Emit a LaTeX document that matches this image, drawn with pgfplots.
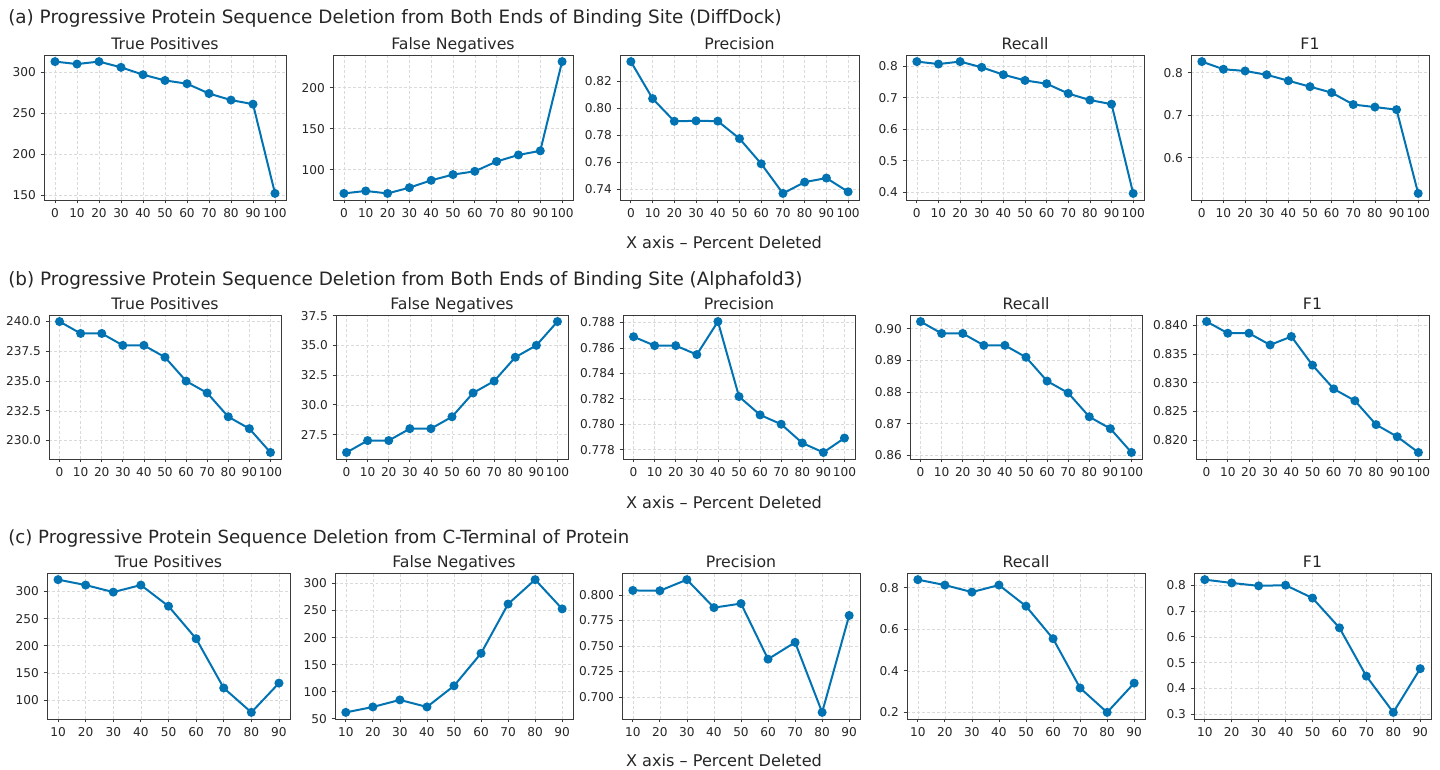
\documentclass[border=0pt]{standalone}
\usepackage{fontspec}
\setmainfont{DejaVu Sans}
\usepackage{pgfplots}
\pgfplotsset{compat=1.18}
\definecolor{lineblue}{HTML}{0173B2}
\definecolor{framegray}{HTML}{3A3A3A}
\definecolor{gridgray}{HTML}{DADADA}
\definecolor{txt}{HTML}{262626}
\pgfplotsset{
  panel/.style={
    scale only axis,
    axis line style={draw=framegray, line width=0.7pt},
    tick align=outside,
    tick pos=left,
    major tick length=2.6pt,
    tick style={draw=framegray, line width=0.6pt},
    xmajorgrids, ymajorgrids,
    grid style={draw=gridgray, line width=0.45pt, dash pattern=on 2.2pt off 1.6pt},
    tick label style={font=\fontsize{9.1}{10.5}\selectfont, text=txt},
    every axis title shift=0pt,
    title style={font=\fontsize{11.8}{14}\selectfont, text=txt, at={(0.5,1)}, anchor=base, yshift=4.5pt},
    enlarge x limits=0.05, enlarge y limits=0.05,
    anchor=north west,
  },
  fullx/.style={xtick={0,10,20,30,40,50,60,70,80,90,100}, xticklabels={0,10,20,30,40,50,60,70,80,90,100}},
  partx/.style={xtick={10,20,30,40,50,60,70,80,90}, xticklabels={10,20,30,40,50,60,70,80,90}},
  series/.style={color=lineblue, line width=1.5pt, mark=*, mark size=2.6pt, mark options={solid, fill=lineblue, draw=lineblue}},
}
\begin{document}
\begin{tikzpicture}
\useasboundingbox (0pt,0pt) rectangle (1080pt,-576.75pt);
% ---------- row titles and x labels
\node[anchor=base west, text=txt, font=\fontsize{13.8}{16}\selectfont, inner sep=0pt] at (6pt,-17.8pt) {(a) Progressive Protein Sequence Deletion from Both Ends of Binding Site (DiffDock)};
\node[anchor=base west, text=txt, font=\fontsize{13.8}{16}\selectfont, inner sep=0pt] at (6pt,-214.3pt) {(b) Progressive Protein Sequence Deletion from Both Ends of Binding Site (Alphafold3)};
\node[anchor=base west, text=txt, font=\fontsize{13.6}{16}\selectfont, inner sep=0pt] at (6pt,-407.8pt) {(c) Progressive Protein Sequence Deletion from C-Terminal of Protein};
\node[anchor=base, text=txt, font=\fontsize{12.1}{14}\selectfont, inner sep=0pt] at (543pt,-186.6pt) {X axis – Percent Deleted};
\node[anchor=base, text=txt, font=\fontsize{12.1}{14}\selectfont, inner sep=0pt] at (543pt,-381.6pt) {X axis – Percent Deleted};
\node[anchor=base, text=txt, font=\fontsize{12.1}{14}\selectfont, inner sep=0pt] at (543pt,-575.2pt) {X axis – Percent Deleted};

% ================= ROW 1 (DiffDock)
\begin{axis}[panel, fullx, at={(33pt,-41.25pt)}, width=181.5pt, height=108.75pt, title={True Positives},
  ytick={150,200,250,300}, yticklabels={150,200,250,300}]
\addplot[series] coordinates {(0,313)(10,310)(20,313)(30,306)(40,297)(50,290)(60,286)(70,274)(80,266)(90,261)(100,152)};
\end{axis}
\begin{axis}[panel, fullx, at={(249.75pt,-41.25pt)}, width=180pt, height=108.75pt, title={False Negatives},
  ytick={100,150,200}, yticklabels={100,150,200}]
\addplot[series] coordinates {(0,71)(10,74)(20,71)(30,78)(40,87)(50,94)(60,98)(70,110)(80,118)(90,123)(100,232)};
\end{axis}
\begin{axis}[panel, fullx, at={(465pt,-41.25pt)}, width=179.25pt, height=108.75pt, title={Precision},
  ytick={0.74,0.76,0.78,0.80,0.82}, yticklabels={0.74,0.76,0.78,0.80,0.82}]
\addplot[series] coordinates {(0,0.8347)(10,0.8072)(20,0.7904)(30,0.7907)(40,0.7905)(50,0.7775)(60,0.7588)(70,0.7368)(80,0.7452)(90,0.7482)(100,0.7380)};
\end{axis}
\begin{axis}[panel, fullx, at={(679.5pt,-41.25pt)}, width=178.5pt, height=108.75pt, title={Recall},
  ytick={0.4,0.5,0.6,0.7,0.8}, yticklabels={0.4,0.5,0.6,0.7,0.8}]
\addplot[series] coordinates {(0,0.8151)(10,0.8073)(20,0.8151)(30,0.7969)(40,0.7734)(50,0.7552)(60,0.7448)(70,0.7135)(80,0.6927)(90,0.6797)(100,0.3958)};
\end{axis}
\begin{axis}[panel, fullx, at={(893.25pt,-41.25pt)}, width=178.5pt, height=108.75pt, title={F1},
  ytick={0.6,0.7,0.8}, yticklabels={0.6,0.7,0.8}]
\addplot[series] coordinates {(0,0.826)(10,0.808)(20,0.804)(30,0.795)(40,0.781)(50,0.767)(60,0.753)(70,0.725)(80,0.719)(90,0.713)(100,0.516)};
\end{axis}

% ================= ROW 2 (Alphafold3)
\begin{axis}[panel, fullx, at={(36.75pt,-236.25pt)}, width=174pt, height=108pt, title={True Positives},
  ytick={230,232.5,235,237.5,240}, yticklabels={230.0,232.5,235.0,237.5,240.0}]
\addplot[series] coordinates {(0,240)(10,239)(20,239)(30,238)(40,238)(50,237)(60,235)(70,234)(80,232)(90,231)(100,229)};
\end{axis}
\begin{axis}[panel, fullx, at={(252pt,-236.25pt)}, width=174pt, height=108pt, title={False Negatives},
  ytick={27.5,30,32.5,35,37.5}, yticklabels={27.5,30.0,32.5,35.0,37.5}]
\addplot[series] coordinates {(0,26)(10,27)(20,27)(30,28)(40,28)(50,29)(60,31)(70,32)(80,34)(90,35)(100,37)};
\end{axis}
\begin{axis}[panel, fullx, at={(467.25pt,-236.25pt)}, width=174pt, height=108pt, title={Precision},
  ytick={0.778,0.780,0.782,0.784,0.786,0.788}, yticklabels={0.778,0.780,0.782,0.784,0.786,0.788}]
\addplot[series] coordinates {(0,0.786885)(10,0.786184)(20,0.786184)(30,0.785479)(40,0.788079)(50,0.782178)(60,0.780731)(70,0.780000)(80,0.778523)(90,0.777778)(100,0.778912)};
\end{axis}
\begin{axis}[panel, fullx, at={(682.5pt,-236.25pt)}, width=174pt, height=108pt, title={Recall},
  ytick={0.86,0.87,0.88,0.89,0.90}, yticklabels={0.86,0.87,0.88,0.89,0.90}]
\addplot[series] coordinates {(0,0.90226)(10,0.89850)(20,0.89850)(30,0.89474)(40,0.89474)(50,0.89098)(60,0.88346)(70,0.87970)(80,0.87218)(90,0.86842)(100,0.86090)};
\end{axis}
\begin{axis}[panel, fullx, at={(897pt,-236.25pt)}, width=174.75pt, height=108pt, title={F1},
  ytick={0.820,0.825,0.830,0.835,0.840}, yticklabels={0.820,0.825,0.830,0.835,0.840}]
\addplot[series] coordinates {(0,0.84063)(10,0.83860)(20,0.83860)(30,0.83656)(40,0.83803)(50,0.83304)(60,0.82892)(70,0.82686)(80,0.82270)(90,0.82060)(100,0.81786)};
\end{axis}

% ================= ROW 3 (C-terminal)
\begin{axis}[panel, partx, at={(35.25pt,-429.75pt)}, width=182.25pt, height=109.5pt, title={True Positives},
  ytick={100,150,200,250,300}, yticklabels={100,150,200,250,300}]
\addplot[series] coordinates {(10,322)(20,312)(30,299)(40,312)(50,273)(60,213)(70,122)(80,77)(90,131)};
\end{axis}
\begin{axis}[panel, partx, at={(251.25pt,-429.75pt)}, width=178.5pt, height=109.5pt, title={False Negatives},
  ytick={50,100,150,200,250,300}, yticklabels={50,100,150,200,250,300}]
\addplot[series] coordinates {(10,62)(20,72)(30,85)(40,72)(50,111)(60,171)(70,262)(80,307)(90,253)};
\end{axis}
\begin{axis}[panel, partx, at={(466.5pt,-429.75pt)}, width=178.5pt, height=109.5pt, title={Precision},
  ytick={0.700,0.725,0.750,0.775,0.800}, yticklabels={0.700,0.725,0.750,0.775,0.800}]
\addplot[series] coordinates {(10,0.8046)(20,0.8043)(30,0.8152)(40,0.7877)(50,0.7917)(60,0.7371)(70,0.7536)(80,0.6848)(90,0.7800)};
\end{axis}
\begin{axis}[panel, partx, at={(680.25pt,-429.75pt)}, width=178.5pt, height=109.5pt, title={Recall},
  ytick={0.2,0.4,0.6,0.8}, yticklabels={0.2,0.4,0.6,0.8}]
\addplot[series] coordinates {(10,0.8385)(20,0.8125)(30,0.7786)(40,0.8125)(50,0.7109)(60,0.5547)(70,0.3177)(80,0.2005)(90,0.3411)};
\end{axis}
\begin{axis}[panel, partx, at={(895.5pt,-429.75pt)}, width=177.75pt, height=109.5pt, title={F1},
  ytick={0.3,0.4,0.5,0.6,0.7,0.8}, yticklabels={0.3,0.4,0.5,0.6,0.7,0.8}]
\addplot[series] coordinates {(10,0.8212)(20,0.8084)(30,0.7972)(40,0.7998)(50,0.7500)(60,0.6350)(70,0.4480)(80,0.3080)(90,0.4770)};
\end{axis}
\end{tikzpicture}
\end{document}
